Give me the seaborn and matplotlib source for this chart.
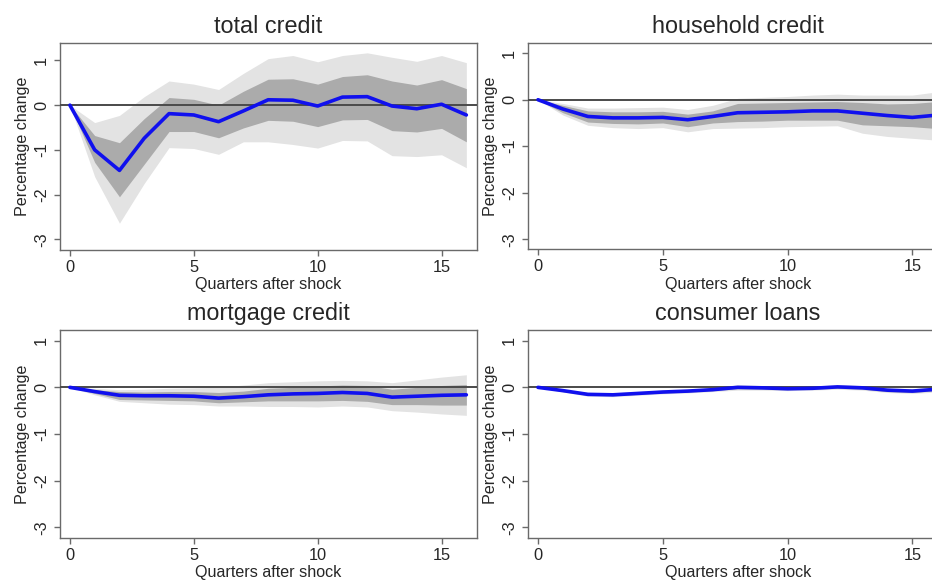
import matplotlib
matplotlib.use("Agg")
import matplotlib.pyplot as plt
import seaborn as sns
import pandas as pd

sns.set_theme(style="white")
plt.rcParams["font.family"] = ["Liberation Sans", "DejaVu Sans"]
plt.rcParams["axes.unicode_minus"] = False

# Quarters after the shock
horizon = [0, 1, 2, 3, 4, 5, 6, 7, 8, 9, 10, 11, 12, 13, 14, 15, 16]

# total credit: point estimate, inner and outer confidence bands
total_irf = [0, -1.0, -1.46, -0.74, -0.19, -0.22, -0.37, -0.13, 0.12, 0.11, -0.02, 0.18, 0.19, -0.02, -0.08, 0.02, -0.22]
total_inner_lo = [0, -1.28, -2.05, -1.32, -0.59, -0.59, -0.73, -0.51, -0.34, -0.36, -0.48, -0.33, -0.32, -0.57, -0.60, -0.52, -0.82]
total_inner_hi = [0, -0.68, -0.84, -0.30, 0.17, 0.13, 0.0, 0.31, 0.58, 0.59, 0.47, 0.64, 0.68, 0.54, 0.45, 0.57, 0.37]
total_outer_lo = [0, -1.60, -2.64, -1.75, -0.95, -0.97, -1.10, -0.82, -0.82, -0.88, -0.96, -0.79, -0.80, -1.13, -1.15, -1.11, -1.40]
total_outer_hi = [0, -0.39, -0.23, 0.19, 0.54, 0.47, 0.35, 0.71, 1.04, 1.11, 0.97, 1.11, 1.17, 1.07, 0.98, 1.11, 0.95]

# household credit
hh_irf = [0, -0.20, -0.36, -0.39, -0.39, -0.38, -0.43, -0.36, -0.28, -0.27, -0.26, -0.24, -0.24, -0.29, -0.34, -0.38, -0.33]
hh_inner_lo = [0, -0.28, -0.48, -0.51, -0.52, -0.50, -0.58, -0.50, -0.47, -0.46, -0.44, -0.44, -0.44, -0.54, -0.56, -0.58, -0.62]
hh_inner_hi = [0, -0.12, -0.24, -0.26, -0.26, -0.25, -0.31, -0.24, -0.08, -0.07, -0.06, -0.05, -0.04, -0.06, -0.09, -0.08, -0.04]
hh_outer_lo = [0, -0.33, -0.55, -0.60, -0.62, -0.60, -0.69, -0.62, -0.61, -0.60, -0.58, -0.57, -0.56, -0.72, -0.79, -0.83, -0.87]
hh_outer_hi = [0, -0.08, -0.18, -0.18, -0.17, -0.16, -0.21, -0.12, 0.03, 0.05, 0.07, 0.10, 0.12, 0.10, 0.10, 0.10, 0.17]

# mortgage credit
mort_irf = [0, -0.09, -0.17, -0.18, -0.18, -0.19, -0.23, -0.20, -0.16, -0.14, -0.13, -0.11, -0.13, -0.21, -0.19, -0.17, -0.16]
mort_inner_lo = [0, -0.13, -0.26, -0.27, -0.28, -0.29, -0.33, -0.31, -0.29, -0.29, -0.29, -0.28, -0.30, -0.37, -0.37, -0.38, -0.38]
mort_inner_hi = [0, -0.05, -0.09, -0.10, -0.09, -0.09, -0.11, -0.08, -0.02, 0.0, 0.03, 0.05, 0.04, -0.04, 0.0, 0.04, 0.06]
mort_outer_lo = [0, -0.16, -0.30, -0.33, -0.36, -0.37, -0.40, -0.40, -0.41, -0.41, -0.42, -0.40, -0.42, -0.50, -0.53, -0.57, -0.60]
mort_outer_hi = [0, -0.02, -0.05, -0.04, -0.02, -0.01, 0.0, 0.05, 0.10, 0.12, 0.14, 0.15, 0.14, 0.10, 0.16, 0.22, 0.27]

# consumer loans
cons_irf = [0, -0.07, -0.15, -0.16, -0.13, -0.10, -0.08, -0.05, 0.0, -0.01, -0.03, -0.02, 0.01, -0.01, -0.06, -0.08, -0.04]
cons_inner_lo = [0, -0.09, -0.17, -0.18, -0.15, -0.12, -0.10, -0.07, -0.03, -0.04, -0.05, -0.04, -0.02, -0.04, -0.09, -0.11, -0.07]
cons_inner_hi = [0, -0.05, -0.13, -0.14, -0.11, -0.08, -0.06, -0.03, 0.03, 0.02, -0.01, 0.0, 0.04, 0.02, -0.03, -0.05, -0.01]
cons_outer_lo = [0, -0.10, -0.19, -0.20, -0.17, -0.14, -0.12, -0.09, -0.06, -0.06, -0.07, -0.06, -0.04, -0.06, -0.11, -0.13, -0.10]
cons_outer_hi = [0, -0.04, -0.11, -0.12, -0.09, -0.06, -0.04, -0.01, 0.06, 0.04, 0.01, 0.02, 0.06, 0.04, -0.01, -0.03, 0.02]

x_ticks = [0, 5, 10, 15]
y_ticks = [-3, -2, -1, 0, 1]
x_label = "Quarters after shock"
y_label = "Percentage change"

W, H = 932, 581


def rect(left, top, right, bottom):
    return [left / W, (H - bottom) / H, (right - left) / W, (bottom - top) / H]


panels = [
    ("total credit", total_irf, total_inner_lo, total_inner_hi, total_outer_lo, total_outer_hi,
     (-3.24, 1.39), rect(60, 43, 477, 250)),
    ("household credit", hh_irf, hh_inner_lo, hh_inner_hi, hh_outer_lo, hh_outer_hi,
     (-3.21, 1.22), rect(528, 43, 948, 249)),
    ("mortgage credit", mort_irf, mort_inner_lo, mort_inner_hi, mort_outer_lo, mort_outer_hi,
     (-3.23, 1.23), rect(60, 330, 477, 538)),
    ("consumer loans", cons_irf, cons_inner_lo, cons_inner_hi, cons_outer_lo, cons_outer_hi,
     (-3.23, 1.23), rect(528, 330, 948, 538)),
]

fig = plt.figure(figsize=(W / 100, H / 100), dpi=100)
fig.patch.set_facecolor("white")

text_color = "#262626"
frame_color = "#6a6a6a"

for title, irf, in_lo, in_hi, out_lo, out_hi, ylim, r in panels:
    ax = fig.add_axes(r)
    ax.set_facecolor("white")
    ax.fill_between(horizon, out_lo, out_hi, color="#e3e3e3", lw=0, zorder=1)
    ax.fill_between(horizon, in_lo, in_hi, color="#ababab", lw=0, zorder=2)
    ax.axhline(0, color="#4a4a4a", lw=1.4, zorder=3)
    df = pd.DataFrame({"quarter": horizon, "response": irf})
    sns.lineplot(data=df, x="quarter", y="response", ax=ax, color="#1010ee",
                 lw=2.6, zorder=4)
    ax.set_xlim(-0.4, 16.43)
    ax.set_ylim(*ylim)
    ax.set_xticks(x_ticks)
    ax.set_yticks(y_ticks)
    ax.set_xlabel(x_label, fontsize=11.6, color=text_color, labelpad=2)
    ax.set_ylabel(y_label, fontsize=11.6, color=text_color, labelpad=3)
    ax.set_title(title, fontsize=16.8, color=text_color, pad=7)
    ax.tick_params(axis="both", which="major", bottom=True, left=True,
                   direction="out", length=4, width=1.0, colors=frame_color,
                   labelcolor=text_color, labelsize=11.8)
    ax.tick_params(axis="x", pad=3)
    ax.tick_params(axis="y", pad=4)
    for lbl in ax.get_yticklabels():
        lbl.set_rotation(90)
        lbl.set_va("center")
    for sp in ax.spines.values():
        sp.set_color(frame_color)
        sp.set_linewidth(1.0)

fig.savefig("out.png", dpi=100)
